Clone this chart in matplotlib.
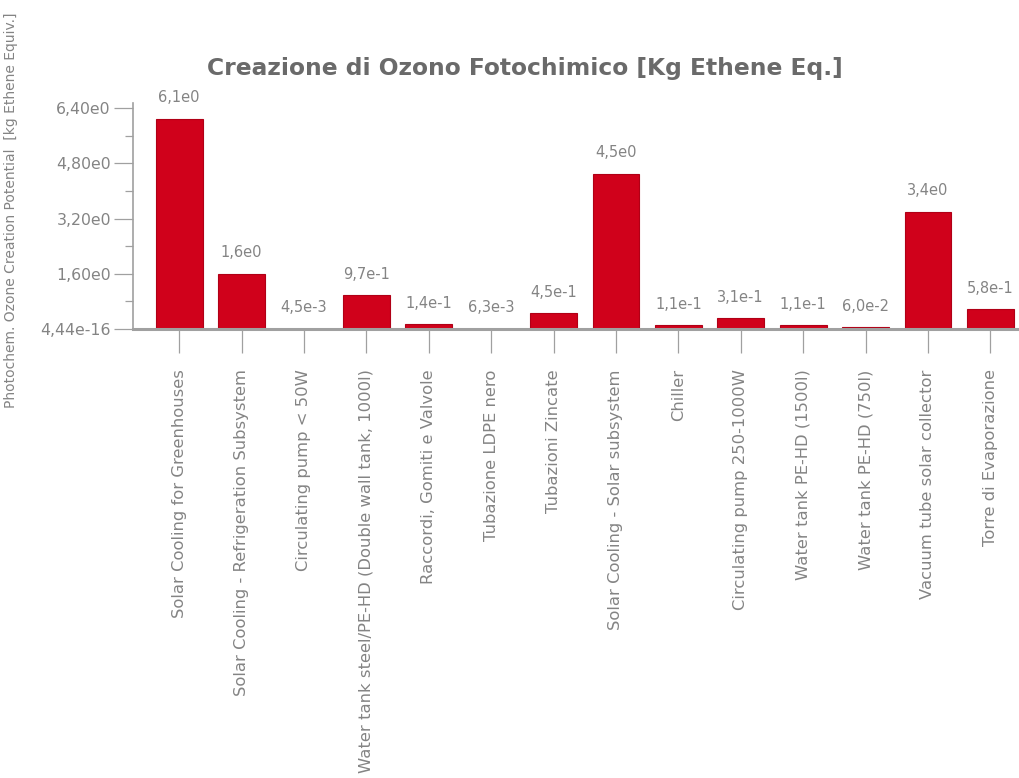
import matplotlib
matplotlib.use("Agg")
from matplotlib import pyplot as plt
from matplotlib.ticker import FixedLocator

categories = [
    "Solar Cooling for Greenhouses",
    "Solar Cooling - Refrigeration Subsystem",
    "Circulating pump < 50W",
    "Water tank steel/PE-HD (Double wall tank, 1000l)",
    "Raccordi, Gomiti e Valvole",
    "Tubazione LDPE nero",
    "Tubazioni Zincate",
    "Solar Cooling - Solar subsystem",
    "Chiller",
    "Circulating pump 250-1000W",
    "Water tank PE-HD (1500l)",
    "Water tank PE-HD (750l)",
    "Vacuum tube solar collector",
    "Torre di Evaporazione",
]
values = [6.1, 1.6, 4.5e-3, 0.97, 0.14, 6.3e-3, 0.45, 4.5, 0.11, 0.31, 0.11, 0.06, 3.4, 0.58]
value_labels = ["6,1e0", "1,6e0", "4,5e-3", "9,7e-1", "1,4e-1", "6,3e-3", "4,5e-1",
                "4,5e0", "1,1e-1", "3,1e-1", "1,1e-1", "6,0e-2", "3,4e0", "5,8e-1"]
y_ticks = [0, 1.6, 3.2, 4.8, 6.4]
y_tick_labels = ["4,44e-16", "1,60e0", "3,20e0", "4,80e0", "6,40e0"]
y_minor = [0.8, 2.4, 4.0, 5.6]

bar_color = "#d0011b"
text_color = "#848484"
axis_color = "#a0a0a0"

fig = plt.figure(figsize=(10.19, 7.78), dpi=100)
ax = fig.add_axes([0.1305, 0.5772, 0.8695, 0.2904])

x = list(range(len(categories)))
ax.bar(x, values, width=0.75, color=bar_color, edgecolor="#b00016", linewidth=0.8, zorder=2)

# value labels above the bars
for xi, v, lab in zip(x, values, value_labels):
    ax.annotate(lab, (xi, v), xytext=(0, 15), textcoords="offset points",
                ha="center", va="center", fontsize=10.5, color=text_color)

ax.set_xlim(-0.74, 13.46)
ax.set_ylim(0, 6.55)

ax.set_xticks(x)
ax.set_xticklabels(categories, rotation=90, fontsize=11.8, color=text_color, va="top")
ax.set_yticks(y_ticks)
ax.set_yticklabels(y_tick_labels, fontsize=11.3, color=text_color)
ax.yaxis.set_minor_locator(FixedLocator(y_minor))

ax.tick_params(axis="x", direction="out", length=17, width=0.9, color=axis_color, pad=12)
ax.tick_params(axis="y", which="major", direction="out", length=14, width=0.9, color=axis_color, pad=2)
ax.tick_params(axis="y", which="minor", direction="out", length=6, width=0.9, color=axis_color)

for side in ["top", "right"]:
    ax.spines[side].set_visible(False)
ax.spines["left"].set_color(axis_color)
ax.spines["left"].set_linewidth(1.2)
ax.spines["bottom"].set_color(axis_color)
ax.spines["bottom"].set_linewidth(2.2)
ax.spines["bottom"].set_zorder(3)

fig.text(0.515, 0.912, "Creazione di Ozono Fotochimico [Kg Ethene Eq.]",
         ha="center", va="center", fontsize=16.8, color="#6a6a6a", fontweight="semibold")
fig.text(0.011, 0.73, "Photochem. Ozone Creation Potential  [kg Ethene Equiv.]",
         rotation=90, ha="center", va="center", fontsize=10, color=text_color)

fig.savefig("out.png", dpi=100)
